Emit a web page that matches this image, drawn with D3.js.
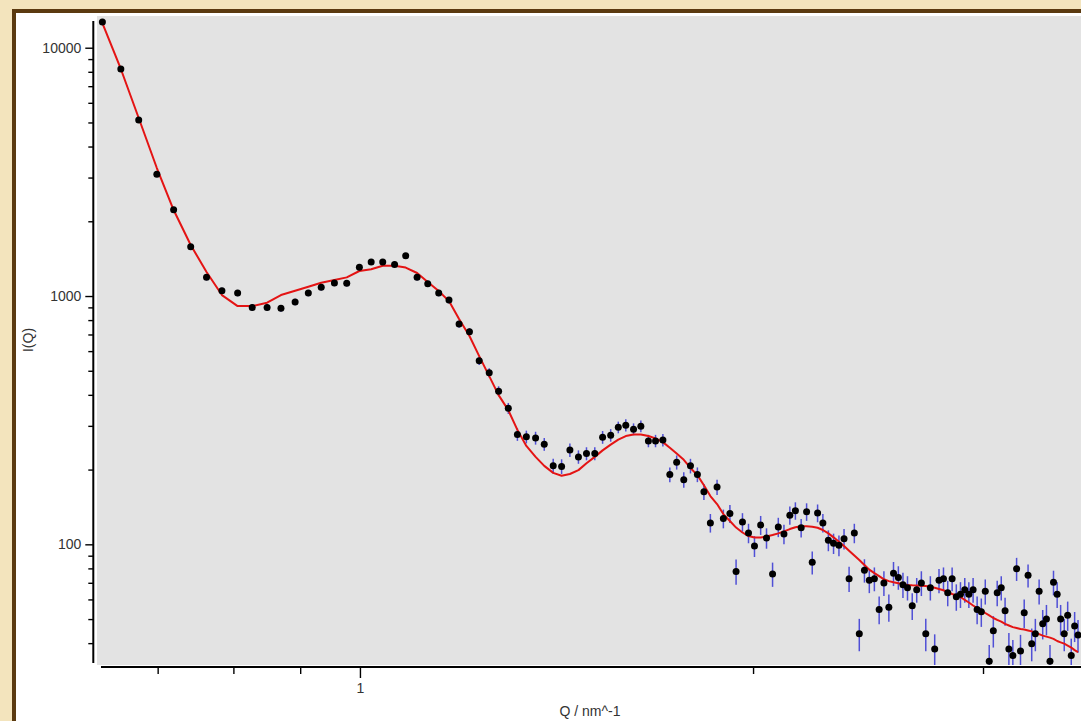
<!DOCTYPE html>
<html>
<head>
<meta charset="utf-8">
<script src="https://cdn.jsdelivr.net/npm/d3@7"></script>
<style>
  html, body { margin: 0; padding: 0; background: #f3e4bd; overflow: hidden; }
  svg { display: block; }
  text { font-family: "Liberation Sans", Arial, sans-serif; }
</style>
</head>
<body>
<svg id="chart" width="1081" height="721"></svg>
<script>
// Scattering vector Q (nm^-1) of each measured point
const qValues = [
  0.635, 0.656, 0.677, 0.699, 0.720, 0.742, 0.763, 0.784, 0.806, 0.827,
  0.849, 0.870, 0.892, 0.913, 0.934, 0.956, 0.977, 0.999, 1.020, 1.041,
  1.063, 1.084, 1.106, 1.127, 1.149, 1.170, 1.191, 1.213, 1.234, 1.256,
  1.277, 1.299, 1.320, 1.341, 1.363, 1.384, 1.406, 1.427, 1.448, 1.470,
  1.491, 1.513, 1.534, 1.556, 1.577, 1.598, 1.620, 1.641, 1.663, 1.684,
  1.706, 1.727, 1.748, 1.770, 1.791, 1.813, 1.834, 1.855, 1.877, 1.898,
  1.920, 1.941, 1.963, 1.984, 2.005, 2.027, 2.048, 2.070, 2.091, 2.112,
  2.134, 2.155, 2.177, 2.198, 2.220, 2.241, 2.262, 2.284, 2.305, 2.327,
  2.348, 2.369, 2.391, 2.412, 2.434, 2.455, 2.477, 2.498, 2.519, 2.541,
  2.562, 2.584, 2.605, 2.626, 2.648, 2.669, 2.691, 2.712, 2.734, 2.755,
  2.776, 2.798, 2.819, 2.841, 2.862, 2.883, 2.905, 2.926, 2.948, 2.969,
  2.991, 3.012, 3.033, 3.055, 3.076, 3.098, 3.119, 3.140, 3.162, 3.183,
  3.205, 3.226, 3.248, 3.269, 3.290, 3.312, 3.333, 3.355, 3.376, 3.397,
  3.419, 3.440, 3.462, 3.483, 3.505, 3.526, 3.547
];

// Measured intensity I(Q)
const intensity = [
  12690, 8210, 5110, 3090, 2226, 1579, 1189, 1050, 1028, 900,
  900, 892, 946, 1028, 1084, 1128, 1125, 1305, 1370, 1370,
  1341, 1453, 1189, 1121, 1028, 963, 771, 718, 549, 491,
  414, 353, 277, 271, 268, 253, 207, 206, 240, 225,
  232, 232, 270, 275, 296, 302, 291, 299, 261, 261,
  263, 191, 214, 182, 207, 191, 163, 122, 170, 127,
  133, 77.8, 123, 111, 98.4, 119.6, 106, 75.9, 117.4, 110,
  131, 136.6, 116.6, 135.3, 84.6, 133.7, 122, 103.8, 100.9, 99.1,
  105.3, 72.7, 111, 43.6, 78.6, 71.6, 72.7, 54.7, 69.9, 55.8,
  76.4, 73.6, 68.8, 66.9, 56.6, 65.7, 69.9, 43.6, 66.9, 37.9,
  71.6, 72.7, 63.8, 72.7, 61.5, 62.9, 65.7, 62.9, 65.7, 54.7,
  53.5, 64.7, 33.8, 44.9, 63.8, 66.9, 54.0, 37.9, 35.7, 79.7,
  37.2, 53.0, 75.0, 39.8, 43.6, 64.7, 47.9, 50.0, 33.8, 70.3,
  62.9, 50.0, 43.6, 51.8, 35.7, 46.9, 43.1
];

// Standard error of each intensity
const sigma = [
  107, 86, 68, 53, 45, 38, 33, 31, 30, 28,
  28, 28, 29, 30, 31, 32, 32, 34, 35, 35,
  35, 36, 33, 32, 30, 29, 26, 25, 22, 21,
  19, 18, 16, 16, 16, 15, 14, 14, 15, 14,
  14, 14, 16, 16, 16, 17, 16, 16, 15, 15,
  15, 13, 14, 13, 14, 13, 12, 10.5, 12, 11,
  11, 9, 10.5, 10, 9.5, 10.5, 10, 8.5, 10.5, 10,
  11, 11, 10, 11, 9, 11, 10.5, 10, 9.5, 9.5,
  10, 8.5, 10, 6.5, 8.5, 8, 8, 7, 8, 7,
  8.5, 8, 8, 7.5, 7, 7.5, 8, 6.5, 7.5, 5.5,
  8, 8, 7.5, 8, 7.5, 7.5, 7.5, 7.5, 7.5, 7,
  7, 7.5, 5.5, 6.5, 7.5, 7.5, 7, 6, 5.5, 8.5,
  6, 7, 8, 6, 6.5, 7.5, 6.5, 7, 5.5, 8,
  7.5, 7, 6.5, 7, 6, 6.5, 6.5
];

// Model fit evaluated at the same Q values
const fitIntensity = [
  12575, 8210, 5211, 3277, 2220, 1605, 1249, 1009, 911, 911,
  940, 1009, 1050, 1090, 1131, 1160, 1189, 1261, 1281, 1324,
  1324, 1302, 1238, 1138, 1047, 954, 808, 690, 573, 476,
  399, 347, 289, 249, 225, 207, 194, 189, 192, 199,
  212, 225, 239, 252, 264, 273, 277, 277, 273, 267,
  258, 245, 232, 219, 203, 190, 173, 156.5, 145.3, 132.4,
  124.1, 116.8, 111.6, 108, 106.5, 106.5, 107.5, 109, 110.7, 112.8,
  115.2, 117.1, 118.2, 118.2, 117.7, 116.6, 114.2, 110.7, 106.7, 102.4,
  98.4, 94.2, 90.1, 86.4, 82.5, 79.1, 76.6, 74.5, 72.3, 71.1,
  70.3, 69.7, 69.0, 68.6, 68.4, 68.3, 68.1, 68.0, 67.4, 66.8,
  66.1, 65.3, 64.3, 63.1, 62.2, 61.4, 59.7, 58.3, 56.7, 55.4,
  54.4, 52.9, 51.7, 50.5, 49.6, 48.8, 47.8, 47.1, 46.4, 46.0,
  45.6, 45.4, 45.0, 44.6, 44.1, 43.5, 42.9, 42.5, 42.1, 41.6,
  40.8, 40.3, 39.8, 39.1, 38.4, 37.5, 36.8
];

// Axis ticks
const yMajorTicks = [100, 1000, 10000];
const yMinorTicks = [40, 50, 60, 70, 80, 90, 200, 300, 400, 500, 600, 700, 800, 900,
                     2000, 3000, 4000, 5000, 6000, 7000, 8000, 9000];
const xMajorTicks = [1];
const xMinorTicks = [0.7, 0.8, 0.9, 2, 3];
const xTitle = "Q / nm^-1";
const yTitle = "I(Q)";

const W = 1081, H = 721;
const plot = { left: 97, right: 1085, top: 16, bottom: 665 };

const svg = d3.select("#chart");

// Page background and framed white panel
svg.append("rect").attr("width", W).attr("height", H).attr("fill", "#f3e4bd");
svg.append("rect")
  .attr("x", 14).attr("y", 11)
  .attr("width", W + 40).attr("height", H + 40)
  .attr("fill", "#ffffff")
  .attr("stroke", "#5b3a10").attr("stroke-width", 4);

const x = d3.scaleLog().domain([0.629, 3.591]).range([plot.left, plot.right]);
const y = d3.scaleLog().domain([32.66, 13420]).range([plot.bottom, plot.top]);

// Plot area
svg.append("rect")
  .attr("x", plot.left).attr("y", plot.top)
  .attr("width", plot.right - plot.left).attr("height", plot.bottom - plot.top)
  .attr("fill", "#e3e3e3");

svg.append("clipPath").attr("id", "plotClip")
  .append("rect")
  .attr("x", plot.left - 4).attr("y", plot.top - 4)
  .attr("width", plot.right - plot.left + 8).attr("height", plot.bottom - plot.top + 4);

const data = qValues.map((q, i) => ({ q, I: intensity[i], s: sigma[i], fit: fitIntensity[i] }));

const marks = svg.append("g").attr("clip-path", "url(#plotClip)");

// Error bars
marks.append("g")
  .selectAll("line")
  .data(data)
  .join("line")
  .attr("x1", d => x(d.q)).attr("x2", d => x(d.q))
  .attr("y1", d => y(d.I + d.s))
  .attr("y2", d => y(Math.max(d.I - d.s, 1)))
  .attr("stroke", "#5050d6")
  .attr("stroke-width", 1.5);

// Fit curve
marks.append("path")
  .datum(data)
  .attr("fill", "none")
  .attr("stroke", "#e41414")
  .attr("stroke-width", 2)
  .attr("stroke-linejoin", "round")
  .attr("d", d3.line().x(d => x(d.q)).y(d => y(d.fit)));

// Data markers
marks.append("g")
  .selectAll("circle")
  .data(data)
  .join("circle")
  .attr("cx", d => x(d.q))
  .attr("cy", d => y(d.I))
  .attr("r", 3.5)
  .attr("fill", "#000");

// Y axis
const yAxisX = 93.3;
const yMajor = svg.append("g").attr("transform", `translate(${yAxisX},0)`)
  .call(d3.axisLeft(y).tickValues(yMajorTicks).tickSize(8).tickPadding(4)
    .tickFormat(d3.format("d")));
const yMinor = svg.append("g").attr("transform", `translate(${yAxisX},0)`)
  .call(d3.axisLeft(y).tickValues(yMinorTicks).tickSize(5).tickFormat(""));

// X axis
const xAxisY = 667;
const xMajor = svg.append("g").attr("transform", `translate(0,${xAxisY})`)
  .call(d3.axisBottom(x).tickValues(xMajorTicks).tickSize(11).tickPadding(5)
    .tickFormat(d3.format("d")));
const xMinor = svg.append("g").attr("transform", `translate(0,${xAxisY})`)
  .call(d3.axisBottom(x).tickValues(xMinorTicks).tickSize(7).tickFormat(""));

[yMajor, yMinor, xMajor, xMinor].forEach(g => {
  g.select(".domain").remove();
  g.selectAll(".tick line").attr("stroke", "#000").attr("stroke-width", 1.4);
  g.selectAll(".tick text").attr("fill", "#333").style("font-size", "14px")
    .style("font-family", "'Liberation Sans', Arial, sans-serif");
});

// Axis lines, set off from the plot corner
svg.append("line")
  .attr("x1", yAxisX).attr("x2", yAxisX)
  .attr("y1", 21).attr("y2", 663)
  .attr("stroke", "#000").attr("stroke-width", 2);
svg.append("line")
  .attr("x1", 101).attr("x2", W + 10)
  .attr("y1", xAxisY).attr("y2", xAxisY)
  .attr("stroke", "#000").attr("stroke-width", 2);

// Axis titles
svg.append("text")
  .attr("x", 590).attr("y", 716)
  .attr("text-anchor", "middle")
  .attr("fill", "#333")
  .style("font-size", "14px")
  .text(xTitle);

svg.append("text")
  .attr("transform", "translate(33,340) rotate(-90)")
  .attr("text-anchor", "middle")
  .attr("fill", "#333")
  .style("font-size", "14px")
  .text(yTitle);
</script>
</body>
</html>
